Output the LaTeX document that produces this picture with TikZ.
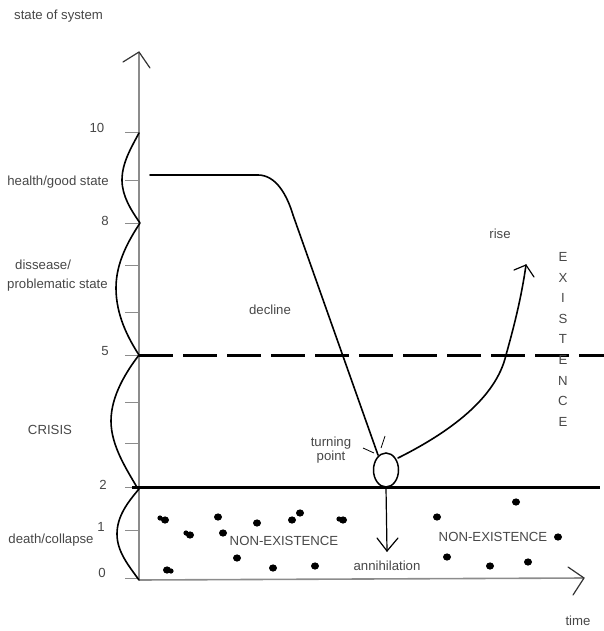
\documentclass[tikz,border=0pt]{standalone}
\usepackage{fontspec}
\setmainfont{Liberation Sans}
\usetikzlibrary{shapes.geometric}
\begin{document}
\begin{tikzpicture}[x=1pt,y=-1pt,
  lbl/.style={text=black!72,font=\fontsize{13.2}{14.5}\selectfont,inner sep=0pt,yscale=1},
  axisline/.style={draw=black!45,line width=1.6pt},
  curve/.style={draw=black,line width=1.6pt,line cap=round,line join=round},
  thin/.style={draw=black,line width=1.2pt,line cap=round},
  blob/.style={fill=black,draw=none}]
\useasboundingbox (0,0) rectangle (604,631);
% axes
\coordinate (ytop) at (139,52);
\coordinate (ybot) at (139,580);
\coordinate (xend) at (584,578);
\draw[axisline] (ybot) -- (ytop);
\draw[axisline] (ybot) -- (xend);
\coordinate (ya1) at (123,62);
\coordinate (ya2) at (150,68);
\draw[thin,black!80] (ya1) -- (ytop) -- (ya2);
\coordinate (xa1) at (568,567);
\coordinate (xa2) at (573,595);
\draw[thin,black!80] (xa1) -- (xend) -- (xa2);
% ticks
\foreach \v/\y in {10/133,9/180,8/223,7/265,6/312,5/355,4/402,3/443,2/487,1/530,0/578}
  \draw[black!45,line width=1pt] (125,\y) -- (139,\y);
% tick labels
\node[lbl] (t10) at (97,128) {10};
\node[lbl] (t8) at (105,221) {8};
\node[lbl] (t5) at (105,351) {5};
\node[lbl] (t2) at (103,485) {2};
\node[lbl] (t1) at (101,527) {1};
\node[lbl] (t0) at (102,573) {0};
% axis labels
\node[lbl,anchor=west] (sos) at (14,16) {state of system};
\node[lbl] (time) at (578,621) {time};
\node[lbl] (hgs) at (58,182) {health/good state};
\node[lbl,anchor=west] (dis) at (15,265) {dissease/};
\node[lbl,anchor=west] (prob) at (7,285) {problematic state};
\node[lbl] (cri) at (50,430) {CRISIS};
\node[lbl] (dc) at (51,540) {death/collapse};
% wavy scale curve
\draw[curve] (139,133) .. controls (131,148) and (122,163) .. (122,180)
  .. controls (122,196) and (131,210) .. (140,223)
  .. controls (129,240) and (116,262) .. (116,288)
  .. controls (116,315) and (128,338) .. (139,355)
  .. controls (126,372) and (111,396) .. (111,421)
  .. controls (111,446) and (127,470) .. (138,489);
\draw[curve] (139,489) .. controls (128,502) and (117,516) .. (117,534)
  .. controls (117,552) and (129,566) .. (139,580);
% horizontal lines
\coordinate (d1) at (139,355);
\coordinate (d2) at (604,355);
\draw[black,line width=3pt,dash pattern=on 34pt off 10pt] (d1) -- (d2);
\coordinate (s1) at (132,487);
\coordinate (s2) at (600,487);
\draw[black,line width=3pt] (s1) -- (s2);
% main curve
\coordinate (c0) at (150,175);
\coordinate (c1) at (258,175);
\coordinate (c2) at (293,215);
\coordinate (c3) at (378,455);
\draw[curve] (c0) -- (c1) .. controls (276,175) and (287,195) .. (c2) -- (c3);
% turning oval
\node[draw=black,line width=1.5pt,ellipse,minimum width=25pt,minimum height=34pt,inner sep=0pt] (tp) at (386,470) {};
% rise
\coordinate (r0) at (398,458);
\coordinate (r1) at (506,355);
\coordinate (rtip) at (526,265);
\draw[curve] (r0) .. controls (450,432) and (496,398) .. (r1) .. controls (513,330) and (521,300) .. (rtip);
\coordinate (ra1) at (514,270);
\coordinate (ra2) at (534,277);
\draw[thin] (ra1) -- (rtip) -- (ra2);
% annihilation arrow
\coordinate (atip) at (387,551);
\draw[thin] (tp.south) -- (atip);
\coordinate (aa1) at (377,538);
\coordinate (aa2) at (398,538);
\draw[thin] (aa1) -- (atip) -- (aa2);
% turning point pointer strokes
\coordinate (p1) at (363,448);
\coordinate (p2) at (374,453);
\coordinate (p3) at (385,436);
\coordinate (p4) at (381,448);
\draw[black,line width=0.8pt] (p1) -- (p2);
\draw[black,line width=0.8pt] (p3) -- (p4);
% labels
\node[lbl,align=center] (tpl) at (331,450) {turning\\[-1pt]point};
\node[lbl] (dec) at (270,310) {decline};
\node[lbl] (rise) at (500,234) {rise};
\node[lbl] (ann) at (387,566) {annihilation};
\node[lbl] (ne1) at (284,541) {NON-EXISTENCE};
\node[lbl] (ne2) at (493,537) {NON-EXISTENCE};
\foreach \ch [count=\i from 0] in {E,X,I,S,T,E,N,C,E}
  \node[lbl] (ex\i) at (563,257+20.6*\i) {\ch};
% blobs
\foreach \x/\y in {165/520,190/535,218/517,223/533,237/558,257/523,292/520,300/513,343/520,167/570,273/568,315/566,437/517,516/502,447/557,490/566,528/562,558/537}
  \fill[blob] (\x,\y) ellipse (4pt and 3.6pt);
\foreach \x/\y in {160/518,186/533,339/519,171/571}
  \fill[blob] (\x,\y) circle (2.6pt);
\end{tikzpicture}
\end{document}
